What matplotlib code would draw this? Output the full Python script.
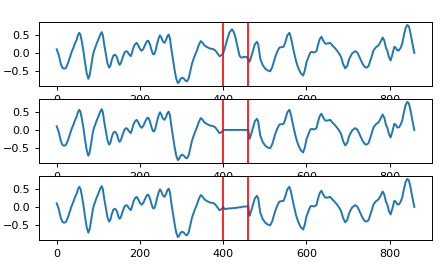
import matplotlib
matplotlib.use("Agg")
import matplotlib.pyplot as plt

# signal samples (index, value)
x_before = [0, 5, 10, 14, 18, 22, 27, 32, 36, 40, 44, 48, 51, 54, 57, 60, 64, 68, 72, 76,
            79, 83, 87, 90, 93, 96, 100, 104, 108, 111, 114, 118, 122, 126, 129, 132, 136,
            139, 142, 145, 148, 151, 154, 159, 163, 167, 170, 173, 178, 181, 184, 188, 192,
            196, 200, 204, 208, 213, 217, 220, 224, 228, 231, 234, 237, 241, 245, 248, 251,
            255, 259, 263, 266, 269, 272, 275, 279, 283, 287, 291, 294, 297, 301, 305, 309,
            313, 317, 321, 325, 330, 334, 337, 341, 346, 350, 355, 360, 365, 369, 375, 381,
            386, 391, 395, 400]
y_before = [0.11, -0.05, -0.30, -0.41, -0.43, -0.41, -0.28, -0.10, 0.04, 0.15, 0.28, 0.38,
            0.50, 0.57, 0.52, 0.35, 0.08, -0.25, -0.55, -0.71, -0.62, -0.35, -0.05, 0.08,
            0.17, 0.27, 0.38, 0.50, 0.59, 0.50, 0.25, -0.01, -0.28, -0.40, -0.35, -0.20,
            -0.07, -0.04, -0.06, -0.12, -0.25, -0.32, -0.28, -0.10, 0.02, 0.06, 0.04, -0.02,
            -0.08, 0.02, 0.15, 0.25, 0.29, 0.22, 0.12, 0.07, 0.12, 0.25, 0.34, 0.35, 0.25,
            0.08, -0.02, -0.03, 0.05, 0.25, 0.42, 0.50, 0.45, 0.33, 0.29, 0.38, 0.48, 0.52,
            0.42, 0.15, -0.15, -0.45, -0.70, -0.83, -0.80, -0.72, -0.68, -0.70, -0.76, -0.78,
            -0.70, -0.50, -0.29, -0.12, 0.0, 0.08, 0.22, 0.34, 0.30, 0.22, 0.18, 0.15, 0.13,
            0.12, 0.08, 0.0, -0.08, -0.06, 0.0]

# original values inside the masked window
x_gap = [404, 410, 415, 421, 425, 429, 434, 439, 442, 445, 450, 455, 460]
y_gap = [0.15, 0.40, 0.58, 0.67, 0.60, 0.46, 0.20, -0.06, -0.11, -0.12, -0.10, -0.10, -0.15]

# window filled with a constant (middle panel)
y_gap_const = [0.01] * len(x_gap)
# window filled with an estimate (bottom panel)
y_gap_est = [-0.05, -0.04, -0.03, -0.03, -0.02, -0.02, -0.01, 0.0, 0.0, 0.01, 0.02, 0.02, 0.03]

x_after = [463, 466, 471, 476, 481, 484, 489, 495, 501, 507, 513, 518, 522, 525, 530, 535,
           540, 545, 549, 554, 559, 563, 569, 575, 580, 586, 592, 596, 600, 605, 609, 613,
           618, 624, 628, 632, 636, 640, 645, 650, 657, 662, 668, 673, 678, 683, 688, 693,
           698, 702, 705, 710, 717, 722, 726, 729, 735, 740, 744, 749, 755, 761, 767, 773,
           778, 783, 787, 791, 794, 798, 802, 806, 811, 815, 818, 822, 826, 830, 834, 838,
           842, 846, 850, 854, 859]
y_after = [-0.24, -0.15, 0.05, 0.25, 0.32, 0.25, -0.15, -0.33, -0.43, -0.48, -0.50, -0.38,
           -0.22, -0.10, 0.05, 0.16, 0.17, 0.18, 0.30, 0.50, 0.57, 0.42, 0.08, -0.22, -0.40,
           -0.55, -0.62, -0.48, -0.25, -0.10, 0.02, 0.04, 0.02, 0.06, 0.25, 0.40, 0.46, 0.36,
           0.27, 0.27, 0.29, 0.22, 0.15, 0.08, 0.0, -0.10, -0.30, -0.42, -0.35, -0.18, -0.10,
           0.0, 0.06, 0.02, -0.07, -0.15, -0.30, -0.38, -0.40, -0.36, -0.15, 0.08, 0.17, 0.22,
           0.32, 0.44, 0.35, 0.15, 0.08, -0.10, -0.20, -0.05, 0.18, 0.15, 0.08, 0.08, 0.15,
           0.27, 0.50, 0.70, 0.79, 0.75, 0.55, 0.30, 0.01]

window = [400, 460]
gap_fills = [y_gap, y_gap_const, y_gap_est]

fig = plt.figure(figsize=(4.41, 2.72), dpi=100)
left, width = 0.088, 0.892
h = 64 / 272
tops = [22, 99, 176]

for top, fill in zip(tops, gap_fills):
    ax = fig.add_axes([left, 1 - (top + 64) / 272, width, h])
    xs = x_before + x_gap + x_after
    ys = y_before + fill + y_after
    ax.plot(xs, ys, color="#1f77b4", lw=1.4)
    for w in window:
        ax.axvline(w, color="red", lw=1.2)
    ax.set_xticks([0, 200, 400, 600, 800])
    ax.set_yticks([-0.5, 0.0, 0.5])
    ax.tick_params(labelsize=8, length=3, width=0.7)
    for s in ax.spines.values():
        s.set_linewidth(0.7)

fig.savefig("out.png", dpi=100)
